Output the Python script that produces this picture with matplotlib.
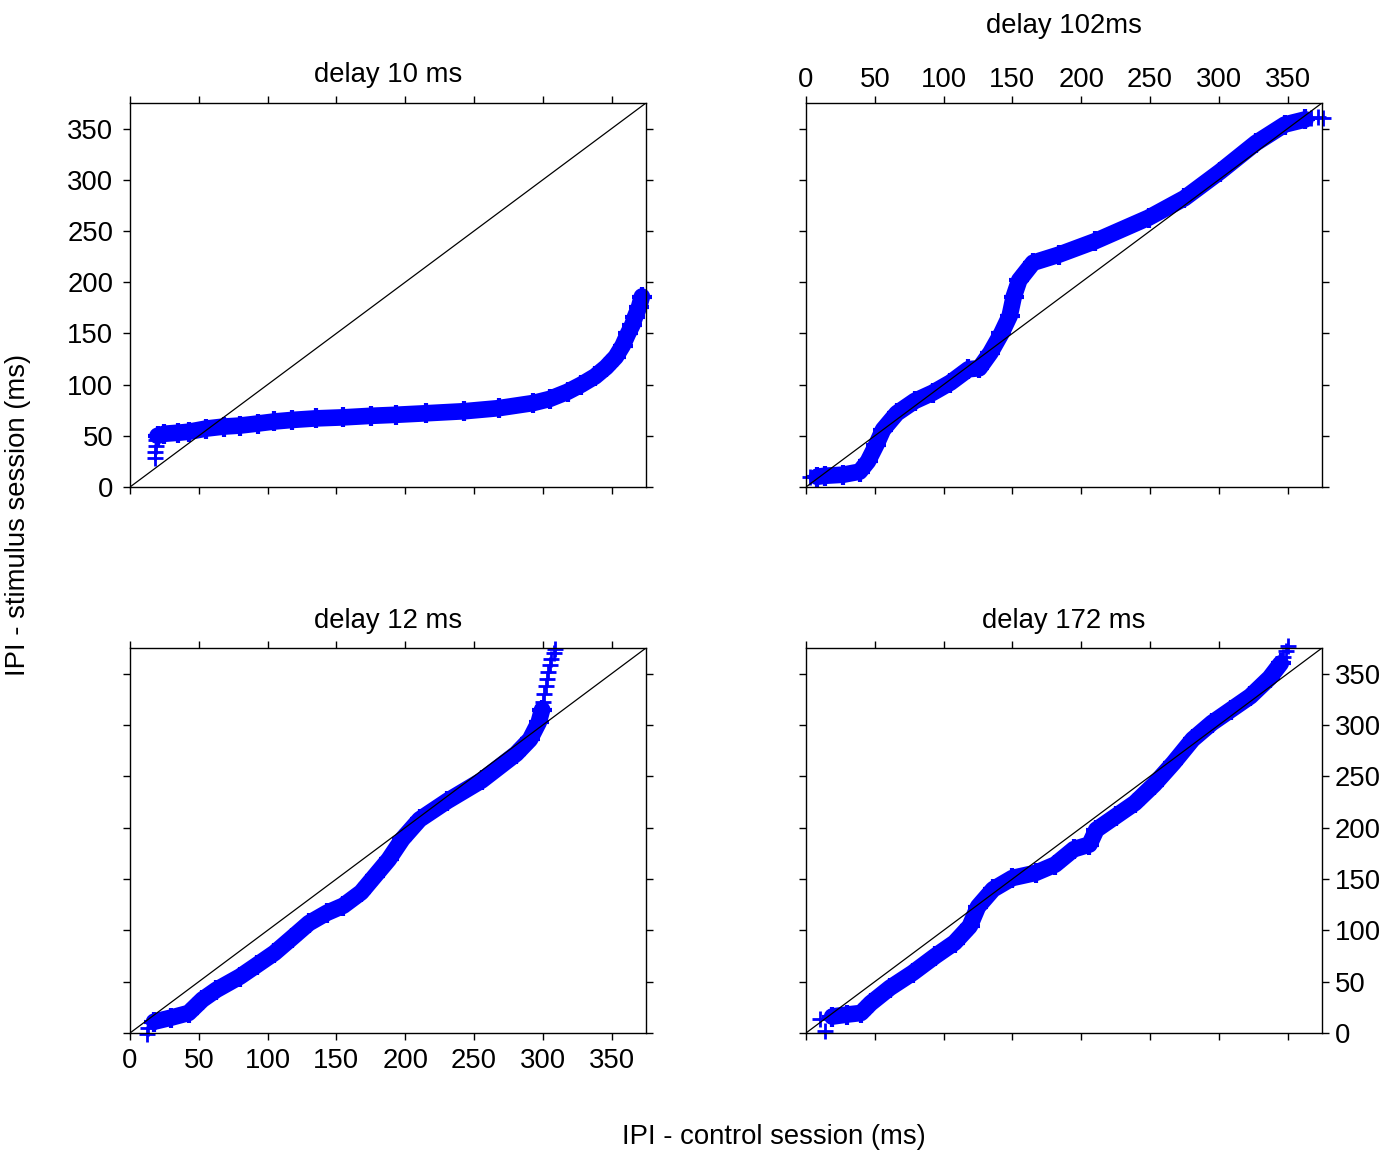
import matplotlib
matplotlib.use("Agg")
import matplotlib.pyplot as plt
import numpy as np

plt.rcParams["font.family"] = ["Liberation Sans", "DejaVu Sans"]
plt.rcParams["font.size"] = 19.8

# IPI quantiles: control session (x) vs stimulus session (y)
ctrl_10 = [20, 25, 35, 43, 55, 68, 80, 93, 105, 118, 135, 155, 175, 193, 215,
           243, 268, 293, 305, 318, 328, 338, 346, 353, 358, 362, 365, 367, 370, 372]
stim_10 = [50, 52, 53, 54, 57, 59, 60, 62, 64, 65.5, 67, 68, 69.5, 70.5, 72,
           74, 77, 82, 86, 93, 100, 108, 117, 127, 138, 150, 158, 166, 176, 186]
ctrl_10_tail = [18, 18, 19, 19]
stim_10_tail = [28, 34, 40, 46]

ctrl_102 = [8, 14, 27, 39, 45, 51, 56, 66, 79, 92, 105, 118, 126, 134, 142, 148,
            151, 155, 165, 184, 210, 249, 275, 301, 327, 348, 363]
stim_102 = [10, 11, 12, 15, 25, 41, 56, 72, 84, 92, 102, 115, 116, 131, 150, 167,
            186, 202, 219, 227, 240, 263, 282, 308, 336, 354, 359]
ctrl_102_tail = [3, 367, 372, 376]
stim_102_tail = [10, 360, 361, 360]

ctrl_12 = [17.5, 30, 42.6, 52.6, 62.7, 80, 92, 105, 118, 130, 143, 155, 168, 178, 188,
           198, 210.5, 230.6, 255.6, 280.7, 290.7, 297, 299.5]
stim_12 = [11, 15, 19.5, 32.5, 42, 55, 66, 78, 93, 107, 117, 124, 137, 153, 169,
           189, 208, 226, 246, 272, 286, 302.5, 315]
ctrl_12_tail = [12.5, 13, 300, 301, 302, 303, 304, 305, 306, 308, 309]
stim_12_tail = [-1, 5, 322, 330, 338, 345, 352, 358, 364, 370, 374]

ctrl_172 = [19, 30, 40, 47, 61, 77.5, 94, 108, 119, 125, 136, 150, 167, 181, 194.6,
            206, 211, 225, 239, 253, 267, 281, 295, 309, 323, 337, 345]
stim_172 = [16, 18, 19.5, 29, 44, 58.5, 75, 88, 104, 123, 140, 151, 156, 164, 179,
            183.6, 198, 211, 224, 242, 263, 286, 302, 315, 328, 346, 360]
ctrl_172_tail = [10, 14, 347, 349, 350]
stim_172_tail = [14, 2, 366, 372, 377]

titles = ["delay 10 ms", "delay 102ms", "delay 12 ms", "delay 172 ms"]
ticks = np.arange(0, 351, 50)
axis_max = 375

W, H = 1391, 1151
fig = plt.figure(figsize=(W / 100, H / 100), dpi=100)


def px_axes(left, right, top, bottom):
    return fig.add_axes([left / W, 1 - bottom / H, (right - left) / W, (bottom - top) / H])


axes = [
    px_axes(130, 646, 103, 487),
    px_axes(806, 1322, 103, 487),
    px_axes(130, 646, 648, 1033),
    px_axes(806, 1322, 648, 1033),
]

series = [
    (ctrl_10, stim_10, ctrl_10_tail, stim_10_tail),
    (ctrl_102, stim_102, ctrl_102_tail, stim_102_tail),
    (ctrl_12, stim_12, ctrl_12_tail, stim_12_tail),
    (ctrl_172, stim_172, ctrl_172_tail, stim_172_tail),
]
labels_on = [
    dict(labelleft=True),
    dict(labeltop=True),
    dict(labelbottom=True),
    dict(labelright=True),
]
title_y = [1.055, 1.182, 1.052, 1.052]

for ax, (xs, ys, xt, yt), lab, title, ty in zip(axes, series, labels_on, titles, title_y):
    ax.plot(xs, ys, color="#0000ff", lw=12, solid_capstyle="round",
            solid_joinstyle="round", clip_on=False, zorder=2)
    ax.plot(xs, ys, "+", color="#0000ff", ms=14, mew=3, clip_on=False, zorder=2)
    ax.plot(xt, yt, "+", color="#0000ff", ms=12, mew=2, clip_on=False, zorder=2)
    ax.axline((0, 0), slope=1, color="black", lw=0.9, zorder=3)

    ax.set_xlim(0, axis_max)
    ax.set_ylim(0, axis_max)
    ax.set_xticks(ticks)
    ax.set_yticks(ticks)
    ax.tick_params(which="both", direction="out", length=5, width=1,
                   top=True, right=True, bottom=True, left=True,
                   labelleft=False, labelright=False, labeltop=False, labelbottom=False)
    ax.tick_params(**lab)
    ax.tick_params(axis="x", which="both", pad=6)
    ax.tick_params(axis="y", which="both", pad=7)
    if "labeltop" in lab:
        ax.tick_params(axis="x", pad=2)
    if "labelright" in lab:
        ax.tick_params(axis="y", pad=4)
    for s in ax.spines.values():
        s.set_linewidth(1.0)
    ax.set_title(title, y=ty, pad=0, fontsize=19.8)

fig.text(18 / W, 1 - 515 / H, "IPI - stimulus session (ms)", rotation=90,
         ha="center", va="center", fontsize=19.8)
fig.text(774 / W, 1 - 1137 / H, "IPI - control session (ms)",
         ha="center", va="center", fontsize=19.8)

fig.savefig("out.png", dpi=100)
